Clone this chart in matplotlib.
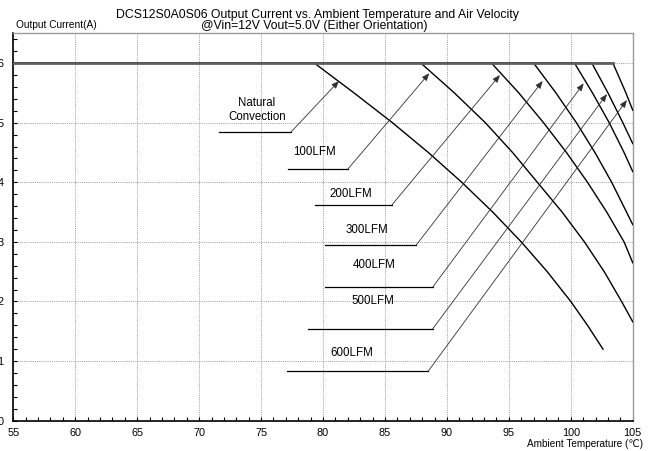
import matplotlib.pyplot as plt
from matplotlib.ticker import MultipleLocator

plt.rcParams['font.family'] = ['Liberation Sans', 'DejaVu Sans']

# derating curves, ambient temperature (C) -> output current (A)
nc_t = [55, 79.3, 82.5, 85.6, 88.5, 91.2, 93.7, 96.0, 98.1, 100.0, 101.35, 102.6]
nc_i = [6, 6, 5.5, 5.0, 4.5, 4.0, 3.5, 3.0, 2.5, 2.0, 1.6, 1.2]

lfm100_t = [55, 87.9, 90.6, 93.1, 95.3, 97.3, 99.3, 101.1, 102.7, 104.1, 105]
lfm100_i = [6, 6, 5.5, 5.0, 4.5, 4.0, 3.5, 3.0, 2.5, 2.0, 1.66]

lfm200_t = [55, 93.6, 95.8, 97.8, 99.65, 101.35, 102.9, 104.3, 105]
lfm200_i = [6, 6, 5.5, 5.0, 4.5, 4.0, 3.5, 3.0, 2.65]

lfm300_t = [55, 97.0, 98.8, 100.45, 101.95, 103.3, 104.5, 105]
lfm300_i = [6, 6, 5.5, 5.0, 4.5, 4.0, 3.5, 3.29]

lfm400_t = [55, 100.3, 101.75, 103.1, 104.3, 105]
lfm400_i = [6, 6, 5.5, 5.0, 4.5, 4.18]

lfm500_t = [55, 101.7, 103.0, 104.2, 105]
lfm500_i = [6, 6, 5.5, 5.0, 4.65]

lfm600_t = [55, 103.4, 104.45, 105]
lfm600_i = [6, 6, 5.5, 5.21]

labels = ['Natural\nConvection', '100LFM', '200LFM', '300LFM',
          '400LFM', '500LFM', '600LFM']

curves = [(nc_t, nc_i), (lfm100_t, lfm100_i), (lfm200_t, lfm200_i),
          (lfm300_t, lfm300_i), (lfm400_t, lfm400_i), (lfm500_t, lfm500_i),
          (lfm600_t, lfm600_i)]

fig = plt.figure(figsize=(6.58, 4.51), dpi=100)
ax = fig.add_axes([0.0202, 0.0672, 0.9414, 0.859])

ax.set_xlim(55, 105)
ax.set_ylim(0, 6.5)
ax.xaxis.set_major_locator(MultipleLocator(5))
ax.xaxis.set_minor_locator(MultipleLocator(1))
ax.yaxis.set_minor_locator(MultipleLocator(0.2))
ax.set_yticks([0, 1, 2, 3, 4, 5, 6])
ax.tick_params(which='both', direction='in', length=3, width=0.8,
               labelsize=7.8, colors='black')
ax.tick_params(axis='y', pad=7)
ax.tick_params(axis='x', pad=5)

ax.grid(True, which='major', color='#9a9a9a', lw=0.7, ls=(0, (1, 1.2)))
for s in ['left', 'bottom']:
    ax.spines[s].set_color('black')
    ax.spines[s].set_linewidth(1.2)
for s in ['top', 'right']:
    ax.spines[s].set_color('#9a9a9a')
    ax.spines[s].set_linewidth(1.0)

for t, i in curves:
    ax.plot(t, i, color='black', lw=1.0, solid_joinstyle='round', zorder=3)
ax.plot([55, 103.4], [6, 6], color='#606060', lw=2.0, zorder=3)

# label text pos, underline start/end, arrow tip
notes = [((74.67, 5.21), (71.6, 77.4, 4.84), (81.29, 5.70)),
         ((79.35, 4.51), (77.2, 82.0, 4.22), (88.58, 5.83)),
         ((82.23, 3.80), (79.35, 85.56, 3.62), (94.28, 5.80)),
         ((83.52, 3.20), (80.15, 87.5, 2.94), (97.73, 5.70)),
         ((84.14, 2.62), (80.15, 88.85, 2.24), (101.04, 5.66)),
         ((84.06, 2.00), (78.81, 88.85, 1.54), (102.92, 5.48)),
         ((82.36, 1.14), (77.11, 88.49, 0.83), (104.53, 5.38))]

for lab, (tpos, (x0, x1, y), tip) in zip(labels, notes):
    ax.text(tpos[0], tpos[1], lab, ha='center', va='center', fontsize=8.3,
            linespacing=1.2, zorder=4)
    ax.plot([x0, x1], [y, y], color='black', lw=0.9, zorder=3)
    ax.annotate('', xy=tip, xytext=(x1, y),
                arrowprops=dict(arrowstyle='-|>,head_length=0.45,head_width=0.18',
                                color='#303030', lw=0.6,
                                shrinkA=0, shrinkB=0), zorder=4)

fig.text(0.483, 1 - 18.3 / 451, 'DCS12S0A0S06 Output Current vs. Ambient Temperature and Air Velocity',
         ha='center', va='baseline', fontsize=8.8)
fig.text(0.478, 1 - 29.3 / 451, '@Vin=12V Vout=5.0V (Either Orientation)',
         ha='center', va='baseline', fontsize=8.8)
fig.text(15.5 / 658, 1 - 27.5 / 451, 'Output Current(A)', ha='left',
         va='baseline', fontsize=7.3)
fig.text(643 / 658, 1 - 447 / 451, 'Ambient Temperature (\u2103)', ha='right',
         va='baseline', fontsize=7.2)

fig.savefig('out.png', dpi=100)
